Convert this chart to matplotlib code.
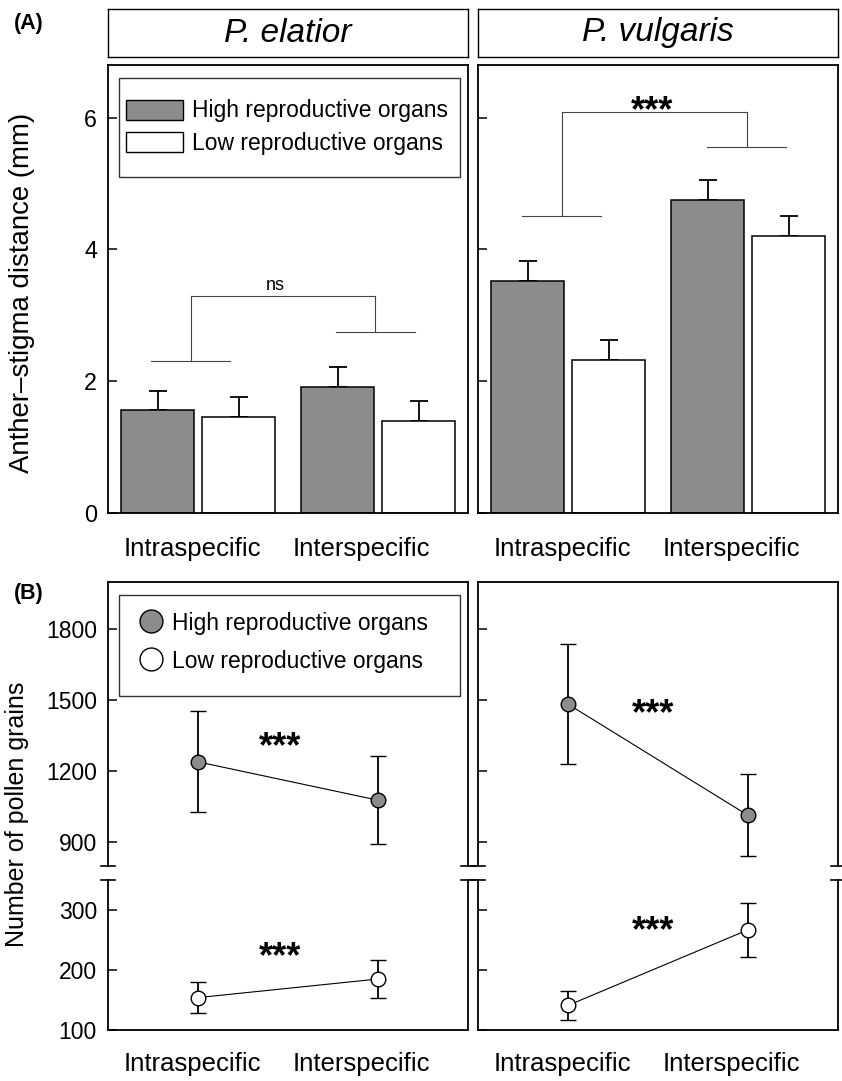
import numpy as np
import matplotlib
matplotlib.use("Agg")
import matplotlib.pyplot as plt
from matplotlib.patches import Patch, Rectangle
from matplotlib.lines import Line2D

plt.rcParams['font.family'] = ['Liberation Sans', 'DejaVu Sans']

# data
groups = ['Intraspecific', 'Interspecific']
species = ['P. elatior', 'P. vulgaris']

# (A) anther-stigma distance (mm), mean and SE
dist_high = {'P. elatior': [1.56, 1.92], 'P. vulgaris': [3.52, 4.75]}
dist_high_se = {'P. elatior': [0.29, 0.30], 'P. vulgaris': [0.30, 0.30]}
dist_low = {'P. elatior': [1.46, 1.39], 'P. vulgaris': [2.32, 4.21]}
dist_low_se = {'P. elatior': [0.30, 0.31], 'P. vulgaris': [0.30, 0.30]}

# (B) number of pollen grains, mean and SE
pollen_high = {'P. elatior': [1240, 1078], 'P. vulgaris': [1484, 1014]}
pollen_high_se = {'P. elatior': [213, 186], 'P. vulgaris': [253, 173]}
pollen_low = {'P. elatior': [154, 185], 'P. vulgaris': [141, 267]}
pollen_low_se = {'P. elatior': [26, 31], 'P. vulgaris': [24, 45]}

# significance brackets in (A): arm heights, top, label
bracket_arms = {'P. elatior': [2.30, 2.75], 'P. vulgaris': [4.51, 5.56]}
bracket_top = {'P. elatior': 3.29, 'P. vulgaris': 6.08}
bracket_text = {'P. elatior': 'ns', 'P. vulgaris': '***'}

GRAY = '#8c8c8c'
W, H = 842, 1081
fig = plt.figure(figsize=(W / 100, H / 100), dpi=100)


def fbox(x0, y0, x1, y1):
    # pixel box (top-left origin) -> figure fraction rect
    return [x0 / W, 1 - y1 / H, (x1 - x0) / W, (y1 - y0) / H]


xpos = np.array([1.0, 2.0])
bw = 0.405
off = 0.225
lab_shift = [-0.033, -0.094]
lefts = [108, 478]
STAR = 26


def stars(ax, x, y):
    ax.annotate('***', (x, y), xytext=(0, -0.56 * STAR), textcoords='offset points',
                ha='center', va='baseline', fontsize=STAR, fontweight='bold')


for i, sp in enumerate(species):
    x0 = lefts[i]
    x1 = x0 + 360

    # strip header
    st = fig.add_axes(fbox(x0, 9, x1, 57))
    st.set_xticks([])
    st.set_yticks([])
    for s in st.spines.values():
        s.set_linewidth(1.0)
    st.text(0.5, 0.5, sp, ha='center', va='center', fontsize=24, style='italic',
            transform=st.transAxes)

    # ---- (A) bars
    ax = fig.add_axes(fbox(x0, 65, x1, 513))
    ax.bar(xpos - off, dist_high[sp], bw, color=GRAY, edgecolor='black', linewidth=1.1, zorder=2)
    ax.bar(xpos + off, dist_low[sp], bw, color='white', edgecolor='black', linewidth=1.1, zorder=2)
    ax.errorbar(xpos - off, dist_high[sp], yerr=[[0, 0], dist_high_se[sp]], fmt='none',
                ecolor='black', elinewidth=1.3, capsize=6.5, capthick=1.3, zorder=1)
    ax.errorbar(xpos + off, dist_low[sp], yerr=[[0, 0], dist_low_se[sp]], fmt='none',
                ecolor='black', elinewidth=1.3, capsize=6.5, capthick=1.3, zorder=1)
    ax.set_xlim(0.5, 2.5)
    ax.set_ylim(0, 6.8)
    ax.set_yticks([0, 2, 4, 6])
    ax.set_xticks(xpos + np.array(lab_shift))
    ax.set_xticklabels(groups)
    ax.tick_params(axis='x', length=0, pad=17, labelsize=18.5)
    ax.tick_params(axis='y', direction='in', length=6.5, width=1.1, pad=8, labelsize=16.8)
    if i == 1:
        ax.set_yticklabels([])
    for s in ax.spines.values():
        s.set_linewidth(1.3)

    # bracket
    cx = [0.96 + 0.005 * i, 1.985 + 0.008 * i]
    arms = bracket_arms[sp]
    top = bracket_top[sp]
    lc = '#444444'
    for c, a in zip(cx, arms):
        ax.plot([c - 0.22, c + 0.22], [a, a], color=lc, lw=0.8)
        ax.plot([c, c], [a, top], color=lc, lw=0.8)
    ax.plot([cx[0], cx[1]], [top, top], color=lc, lw=0.8)
    if bracket_text[sp] == 'ns':
        ax.annotate('ns', (1.43, 3.46), xytext=(0, -0.26 * 13), textcoords='offset points',
                    ha='center', va='baseline', fontsize=13)
    else:
        stars(ax, 1.467, 6.26)

    if i == 0:
        ax.add_patch(Rectangle((0.0306, 0.749), 0.947, 0.223, transform=ax.transAxes,
                               fill=False, edgecolor='#333333', lw=1.0, zorder=5))
        hs = [Patch(facecolor=GRAY, edgecolor='black', lw=1.0),
              Patch(facecolor='white', edgecolor='black', lw=1.0)]
        ax.legend(hs, ['High reproductive organs', 'Low reproductive organs'],
                  loc='upper left', bbox_to_anchor=(0.05, 0.923), frameon=False,
                  borderpad=0, borderaxespad=0, fontsize=16.5, handlelength=2.5,
                  handleheight=0.98, handletextpad=0.4, labelspacing=0.42)

    # ---- (B) pollen, broken axis
    up = fig.add_axes(fbox(x0, 582, x1, 866))
    lo = fig.add_axes(fbox(x0, 880, x1, 1030))
    up.errorbar(xpos, pollen_high[sp], yerr=pollen_high_se[sp], fmt='-o', color='black',
                lw=0.8, elinewidth=1.3, capsize=5.5, capthick=1.3, markersize=10.5,
                markerfacecolor=GRAY, markeredgecolor='black', markeredgewidth=1.0)
    lo.errorbar(xpos, pollen_low[sp], yerr=pollen_low_se[sp], fmt='-o', color='black',
                lw=0.8, elinewidth=1.3, capsize=5.5, capthick=1.3, markersize=10.5,
                markerfacecolor='white', markeredgecolor='black', markeredgewidth=1.0)
    up.set_ylim(800, 2000)
    lo.set_ylim(100, 350)
    up.set_yticks([900, 1200, 1500, 1800])
    lo.set_yticks([100, 200, 300])
    for a in (up, lo):
        a.set_xlim(0.5, 2.5)
        a.tick_params(axis='y', direction='in', length=6.5, width=1.1, pad=8, labelsize=16.5)
        for s in a.spines.values():
            s.set_linewidth(1.3)
        if i == 1:
            a.set_yticklabels([])
    up.set_xticks([])
    up.spines['bottom'].set_visible(False)
    lo.spines['top'].set_visible(False)
    lo.set_xticks(xpos + np.array(lab_shift))
    lo.set_xticklabels(groups)
    lo.tick_params(axis='x', length=0, pad=16, labelsize=18.5)

    d = 7 / 360
    for a, yy in ((up, 0), (lo, 1)):
        for xx in (0, 1):
            a.plot([xx - d, xx + d], [yy, yy], transform=a.transAxes, color='black',
                   lw=1.2, clip_on=False)

    sx = 1.456 + 0.016 * i
    stars(up, sx, [1345, 1484][i])
    stars(lo, sx, [239, 281][i])

    if i == 0:
        up.add_patch(Rectangle((0.0306, 0.599), 0.947, 0.355, transform=up.transAxes,
                               fill=False, edgecolor='#333333', lw=1.0, zorder=5))
        hs = [Line2D([], [], ls='none', marker='o', markersize=16.5, markerfacecolor=GRAY,
                     markeredgecolor='black', markeredgewidth=1.0),
              Line2D([], [], ls='none', marker='o', markersize=16.5, markerfacecolor='white',
                     markeredgecolor='black', markeredgewidth=1.0)]
        up.legend(hs, ['High reproductive organs', 'Low reproductive organs'],
                  loc='upper left', bbox_to_anchor=(0.0867, 0.895), frameon=False,
                  borderpad=0, borderaxespad=0, fontsize=16.5, handlelength=1.0,
                  handleheight=1.0, handletextpad=0.43, labelspacing=0.64)

fig.text(22 / W, 1 - 292.5 / H, 'Anther\u2013stigma distance (mm)', rotation=90,
         ha='center', va='center', fontsize=19.9)
fig.text(17.5 / W, 1 - 814.5 / H, 'Number of pollen grains', rotation=90,
         ha='center', va='center', fontsize=18)
fig.text(14 / W, 1 - 24 / H, '(A)', ha='left', va='center', fontsize=15.5, fontweight='bold')
fig.text(14 / W, 1 - 593 / H, '(B)', ha='left', va='center', fontsize=15.5, fontweight='bold')

fig.savefig('out.png', dpi=100)
